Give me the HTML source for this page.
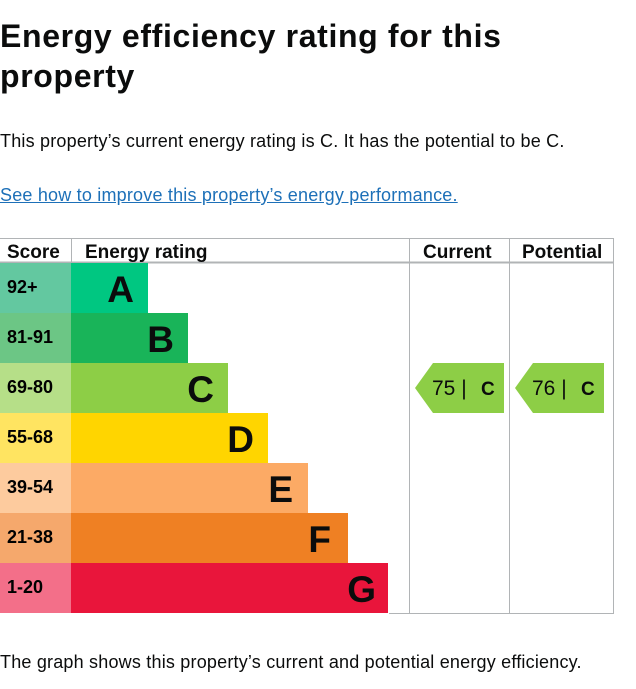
<!DOCTYPE html>
<html><head><meta charset="utf-8"><style>
body{margin:0;background:#fff;width:636px;height:689px;overflow:hidden;font-family:"Liberation Sans",Arial,sans-serif;color:#0b0c0c}
h1{position:absolute;left:0;top:16px;margin:0;font-size:32px;line-height:40px;font-weight:bold;width:560px;letter-spacing:0.65px}
.p{position:absolute;left:0;font-size:18px;line-height:22px;letter-spacing:0.2px}
a{color:#1d70b8;text-decoration:underline}
svg{position:absolute;left:0;top:0}
</style></head><body>
<h1>Energy efficiency rating for this property</h1>
<div class="p" style="top:130px">This property’s current energy rating is C. It has the potential to be C.</div>
<div class="p" style="top:184px"><a>See how to improve this property’s energy performance.</a></div>
<div class="p" style="top:651px">The graph shows this property’s current and potential energy efficiency.</div>
<svg width="636" height="689" font-family="Liberation Sans, Arial, sans-serif">
<g stroke="#b1b4b6" stroke-width="1">
<line x1="0" y1="238.5" x2="614" y2="238.5"/>
<line x1="0" y1="262.5" x2="614" y2="262.5" stroke-width="2"/>
<line x1="71.5" y1="238" x2="71.5" y2="263"/>
<line x1="409.5" y1="238" x2="409.5" y2="613"/>
<line x1="509.5" y1="238" x2="509.5" y2="613"/>
<line x1="613.5" y1="238" x2="613.5" y2="613"/>
<line x1="389" y1="613.5" x2="614" y2="613.5"/>
</g>
<g font-weight="bold" font-size="19" fill="#0b0c0c">
<text x="7" y="258">Score</text><text x="85" y="258">Energy rating</text>
<text x="423" y="258">Current</text><text x="522" y="258">Potential</text>
</g>
<g font-weight="bold" font-size="18">
<rect x="0" y="263" width="71" height="50" fill="#63c8a0"/><rect x="71" y="263" width="77" height="50" fill="#00c781"/>
<rect x="0" y="313" width="71" height="50" fill="#6cc685"/><rect x="71" y="313" width="117" height="50" fill="#19b459"/>
<rect x="0" y="363" width="71" height="50" fill="#b6df88"/><rect x="71" y="363" width="157" height="50" fill="#8dce46"/>
<rect x="0" y="413" width="71" height="50" fill="#ffe461"/><rect x="71" y="413" width="197" height="50" fill="#ffd500"/>
<rect x="0" y="463" width="71" height="50" fill="#fdcb9e"/><rect x="71" y="463" width="237" height="50" fill="#fcaa65"/>
<rect x="0" y="513" width="71" height="50" fill="#f5a86c"/><rect x="71" y="513" width="277" height="50" fill="#ef8023"/>
<rect x="0" y="563" width="71" height="50" fill="#f36f89"/><rect x="71" y="563" width="317" height="50" fill="#e9153b"/>
<text x="7" y="293">92+</text><text x="7" y="343">81-91</text><text x="7" y="393">69-80</text>
<text x="7" y="443">55-68</text><text x="7" y="493">39-54</text><text x="7" y="543">21-38</text><text x="7" y="593">1-20</text>
</g>
<g font-weight="bold" font-size="37" text-anchor="end" fill="#0b0c0c">
<text x="134" y="302">A</text><text x="174" y="352">B</text><text x="214" y="402">C</text>
<text x="254" y="452">D</text><text x="293" y="502">E</text><text x="331" y="552">F</text><text x="376" y="602">G</text>
</g>
<polygon points="415,388 433,363 504,363 504,413 433,413" fill="#8dce46"/>
<polygon points="515,388 533,363 604,363 604,413 533,413" fill="#8dce46"/>
<g font-size="21" fill="#0b0c0c">
<text x="432" y="395">75 |</text><text x="532" y="395">76 |</text>
<text x="481" y="395" font-weight="bold" font-size="19">C</text><text x="581" y="395" font-weight="bold" font-size="19">C</text>
</g>
</svg>
</body></html>
